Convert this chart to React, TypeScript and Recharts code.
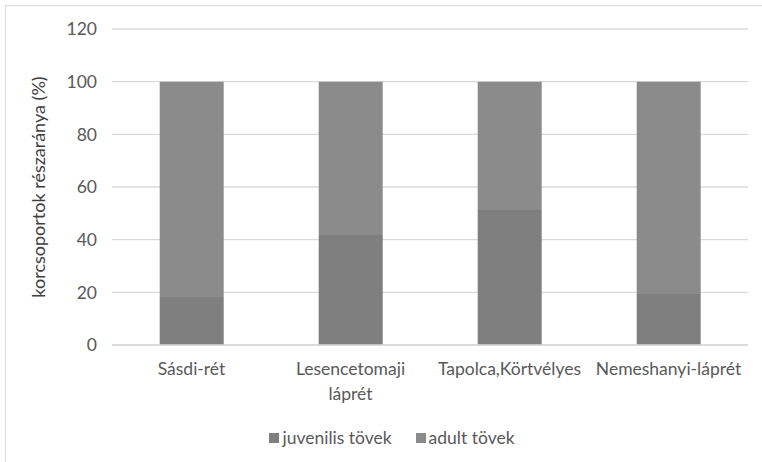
import React from 'react';
import { BarChart, Bar, XAxis, YAxis, CartesianGrid, Legend } from 'recharts';

const sites = ['Sásdi-rét', 'Lesencetomaji\nláprét', 'Tapolca,Körtvélyes', 'Nemeshanyi-láprét'];
const juvenile = [18.2, 41.8, 51.3, 19.4];
const adult = [81.8, 58.2, 48.7, 80.6];
const yTicks = [0, 20, 40, 60, 80, 100, 120];

const data = sites.map((site, i) => ({ site, juvenile: juvenile[i], adult: adult[i] }));

const FONT = 'Lato, "Open Sans", sans-serif';
const TEXT = '#595959';
const FS = 17.5;

const SiteTick = ({ x, y, payload }: any) => {
  const lines = String(payload.value).split('\n');
  return (
    <text x={x} y={y} textAnchor="middle" fill={TEXT} fontSize={FS} fontFamily={FONT}>
      {lines.map((l, i) => (
        <tspan key={i} x={x} dy={i === 0 ? 22 : 25}>{l}</tspan>
      ))}
    </text>
  );
};

const LegendContent = () => (
  <div style={{ display: 'flex', justifyContent: 'center', gap: 24, fontFamily: FONT, fontSize: FS, color: TEXT, paddingLeft: 22 }}>
    {[['juvenilis tövek', '#7f7f7f'], ['adult tövek', '#8b8b8b']].map(([name, c]) => (
      <span key={name} style={{ display: 'flex', alignItems: 'center' }}>
        <span style={{ width: 10, height: 10, background: c, display: 'inline-block', marginRight: 3 }} />
        {name}
      </span>
    ))}
  </div>
);

export default function App() {
  return (
    <div style={{ position: 'fixed', left: 0, top: 0, width: 762, height: 462, background: '#fff', overflow: 'hidden' }}>
      <div style={{ position: 'absolute', left: 5, top: 5, width: 800, height: 500, border: '1.5px solid #d9d9d9' }} />
      <BarChart
        width={762}
        height={462}
        data={data}
        margin={{ top: 29, right: 14, left: 28, bottom: 39 }}
        barCategoryGap="30%"
        style={{ position: 'absolute', left: 0, top: 0 }}
      >
        <CartesianGrid vertical={false} stroke="#d9d9d9" strokeWidth={1.3} />
        <XAxis
          dataKey="site"
          axisLine={{ stroke: '#d9d9d9', strokeWidth: 1.3 }}
          tickLine={false}
          tick={<SiteTick />}
          interval={0}
          height={57}
        />
        <YAxis
          domain={[0, 120]}
          ticks={yTicks}
          axisLine={false}
          tickLine={false}
          width={84}
          tickMargin={9}
          tick={{ fill: TEXT, fontSize: FS, fontFamily: FONT }}
          label={{
            value: 'korcsoportok részaránya (%)',
            angle: -90,
            position: 'insideLeft',
            dx: 6,
            dy: 0,
            style: { textAnchor: 'middle', fill: '#404040', fontSize: 18, fontFamily: FONT },
          }}
        />
        <Legend verticalAlign="bottom" content={<LegendContent />} wrapperStyle={{ left: 0, width: 762, bottom: 14 }} />
        <Bar dataKey="juvenile" name="juvenilis tövek" stackId="a" fill="#7f7f7f" isAnimationActive={false} />
        <Bar dataKey="adult" name="adult tövek" stackId="a" fill="#8b8b8b" isAnimationActive={false} />
      </BarChart>
    </div>
  );
}
